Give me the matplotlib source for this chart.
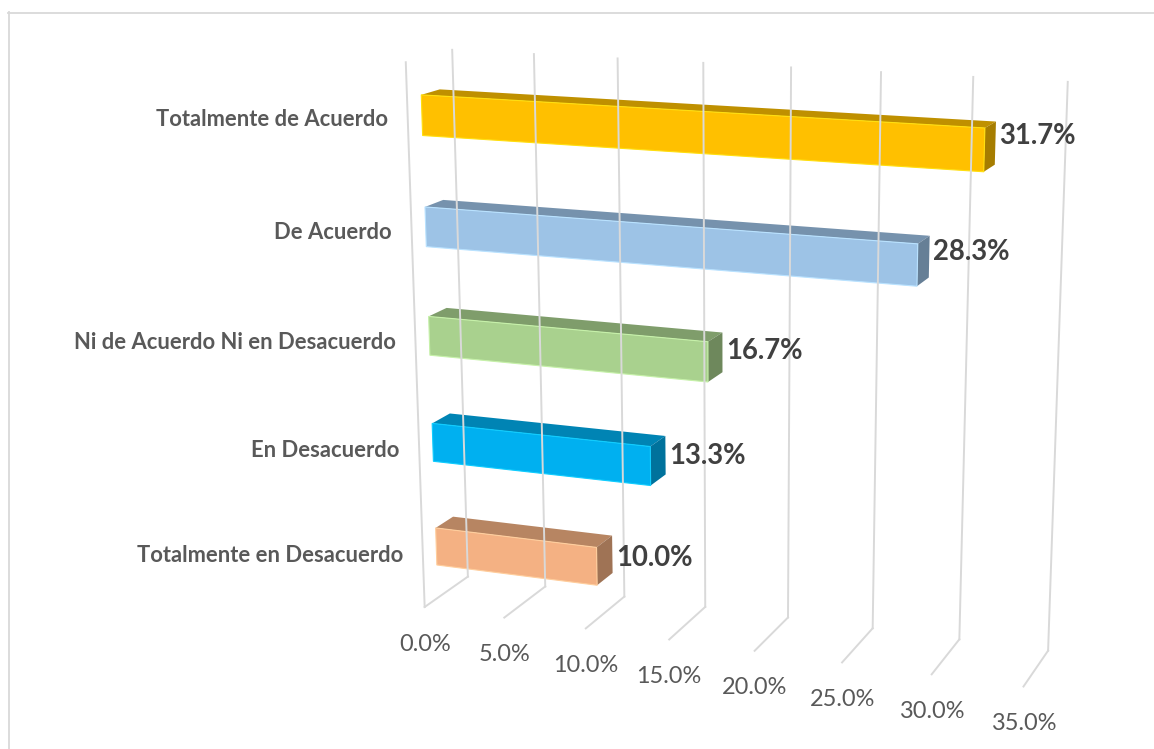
import numpy as np
import matplotlib
matplotlib.use("Agg")
import matplotlib.pyplot as plt
from matplotlib.patches import Polygon
from matplotlib.colors import to_rgb

# data (bottom row first, like the category axis)
categories = ["Totalmente en Desacuerdo", "En Desacuerdo", "Ni de Acuerdo Ni en Desacuerdo",
              "De Acuerdo", "Totalmente de Acuerdo"]
values = [10.0, 13.3, 16.7, 28.3, 31.7]
bar_colors = ["#F4B183", "#00B0F0", "#A9D18E", "#9DC3E6", "#FFC000"]
ticks = [0, 5, 10, 15, 20, 25, 30, 35]
tick_labels = ["0.0%", "5.0%", "10.0%", "15.0%", "20.0%", "25.0%", "30.0%", "35.0%"]

W, H = 1154, 749
VMAX = 35.0

# perspective of the Excel 3-D plot box: a few box points (value, height, depth) -> pixel
anchors = [
    ((0, 0, 0), (467, 577)), ((5, 0, 0), (546, 587)), ((10, 0, 0), (625, 597)),
    ((15, 0, 0), (705, 607)), ((20, 0, 0), (787, 617)), ((25, 0, 0), (873, 628)),
    ((30, 0, 0), (960, 639)), ((35, 0, 0), (1048, 650)),
    ((0, 0, 1), (425, 607)), ((5, 0, 1), (504, 617)), ((10, 0, 1), (586, 628)),
    ((15, 0, 1), (669, 639)), ((25, 0, 1), (842, 663)), ((30, 0, 1), (932, 675)),
    ((35, 0, 1), (1023, 687)),
    ((0, 1, 0), (452, 50)), ((25, 1, 0), (881, 72)), ((30, 1, 0), (973, 77)),
    ((35, 1, 0), (1068, 82)), ((0, 1, 1), (406, 62)),
]

rows = []
for (x, y, z), (u, v) in anchors:
    X = [x / VMAX, y, z, 1.0]
    u, v = u / 1000.0, v / 1000.0
    rows.append(X + [0, 0, 0, 0] + [-u * c for c in X])
    rows.append([0, 0, 0, 0] + X + [-v * c for c in X])
_, _, vt = np.linalg.svd(np.array(rows))
P = vt[-1].reshape(3, 4)


def proj(x, y, z):
    p = P @ np.array([x / VMAX, y, z, 1.0])
    return 1000.0 * p[0] / p[2], 1000.0 * p[1] / p[2]


fig = plt.figure(figsize=(W / 100, H / 100), dpi=100)
ax = fig.add_axes([0, 0, 1, 1])
ax.set_xlim(0, W)
ax.set_ylim(H, 0)
ax.axis("off")

# chart frame (only top and left edges fall inside the picture)
ax.plot([8, W], [12.5, 12.5], color="#D9D9D9", lw=1.3)
ax.plot([8.5, 8.5], [12, H], color="#D9D9D9", lw=1.3)

grid_col = "#D9D9D9"
for t in ticks:
    x0, y0 = proj(t, 0, 0)
    x1, y1 = proj(t, 1, 0)
    x2, y2 = proj(t, 0, 1)
    ax.plot([x0, x1], [y0, y1], color=grid_col, lw=1.4)
    ax.plot([x0, x2], [y0, y2], color=grid_col, lw=1.4)
xa, ya = proj(0, 0, 1)
xb, yb = proj(0, 1, 1)
ax.plot([xa, xb], [ya, yb], color=grid_col, lw=1.4)

# bars
n = len(categories)
half = 0.036
z0, z1 = 0.3, 0.7
for i, (cat, val, col) in enumerate(zip(categories, values, bar_colors)):
    c = (i + 0.5) / n
    b, t = c - half, c + half
    rgb = np.array(to_rgb(col))
    front = [proj(0, b, z1), proj(val, b, z1), proj(val, t, z1), proj(0, t, z1)]
    top = [proj(0, t, z1), proj(val, t, z1), proj(val, t, z0), proj(0, t, z0)]
    side = [proj(val, b, z1), proj(val, b, z0), proj(val, t, z0), proj(val, t, z1)]
    ax.add_patch(Polygon(top, closed=True, fc=rgb * 0.75, ec="none"))
    ax.add_patch(Polygon(side, closed=True, fc=rgb * 0.65, ec="none"))
    ax.add_patch(Polygon(front, closed=True, fc=rgb, ec=np.minimum(rgb * 1.08 + 0.06, 1),
                         lw=0.8))

    lx, ly = proj(0, c, 1)
    ax.text(lx - 20, ly, cat, ha="right", va="center", fontsize=15.8,
            fontweight="bold", color="#595959", family="Lato")

    # value label beside the bar end, nudged up more for the higher rows
    vx, vy = proj(val, c, z0)
    ax.text(vx + 4, vy - 1.5 - 13.75 * (c - 0.5), f"{val:.1f}%", ha="left", va="center",
            fontsize=19.8, fontweight="bold", color="#404040", family="Lato")

for t, lab in zip(ticks, tick_labels):
    tx, ty = proj(t, 0, 1)
    ax.text(tx, ty + 37, lab, ha="center", va="center", fontsize=16.9,
            color="#595959", family="Lato")

fig.savefig("out.png", dpi=100)
